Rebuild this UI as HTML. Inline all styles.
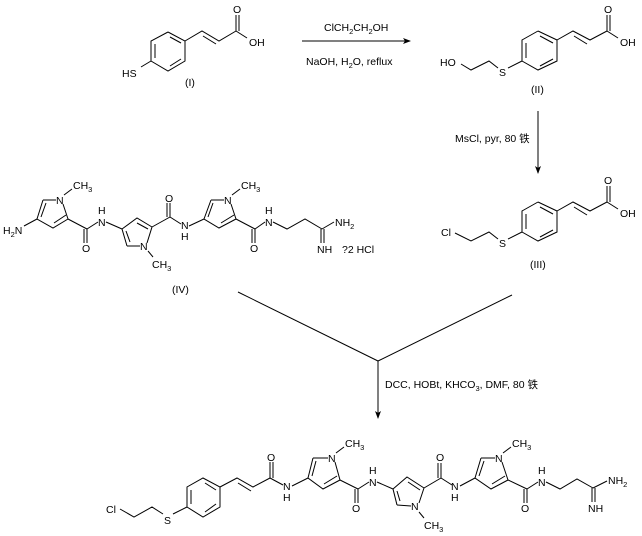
<!DOCTYPE html>
<html><head><meta charset="utf-8">
<style>
html,body{margin:0;padding:0;background:#fff;}
svg{display:block;}
text{font-family:"Liberation Sans","Noto Sans CJK SC",sans-serif;font-size:10.5px;fill:#000;}
.s{font-size:7.5px;}
line,polyline{stroke:#000;stroke-width:1;fill:none;}
</style></head><body>
<svg width="642" height="536" viewBox="0 0 642 536" xmlns="http://www.w3.org/2000/svg">
<defs>
<marker id="ar" markerWidth="8" markerHeight="8" refX="7" refY="4" orient="auto" markerUnits="userSpaceOnUse">
<path d="M0,1 L8,4 L0,7 L2,4 Z" fill="#000"/>
</marker>
</defs>

<!-- Compound I -->
<polyline points="168,32 185,41 185,61 168,71 151,61 151,41 168,32"/>
<line x1="170" y1="37" x2="181" y2="43"/>
<line x1="181" y1="59" x2="170" y2="66"/>
<line x1="155" y1="44" x2="155" y2="58"/>
<line x1="151" y1="61" x2="141" y2="67"/>
<text x="122" y="77">HS</text>
<polyline points="185,41 202,31 219,41 236,31"/>
<line x1="203" y1="36" x2="216" y2="44"/>
<line x1="236" y1="31" x2="236" y2="15"/>
<line x1="239" y1="31" x2="239" y2="15"/>
<text x="233" y="13">O</text>
<line x1="236" y1="31" x2="247" y2="38"/>
<text x="249" y="46">OH</text>
<text x="185" y="86">(I)</text>

<!-- Arrow 1 -->
<line x1="302" y1="41" x2="410" y2="41" marker-end="url(#ar)"/>
<text x="324" y="31">ClCH<tspan class="s" dy="3">2</tspan><tspan dy="-3">CH</tspan><tspan class="s" dy="3">2</tspan><tspan dy="-3">OH</tspan></text>
<text x="306" y="65">NaOH, H<tspan class="s" dy="3">2</tspan><tspan dy="-3">O, reflux</tspan></text>

<!-- Compound II -->
<polyline points="538,31 557,40 557,61 538,70 522,61 522,40 538,31"/>
<line x1="540" y1="36" x2="553" y2="43"/>
<line x1="553" y1="59" x2="540" y2="66"/>
<line x1="526" y1="43" x2="526" y2="58"/>
<line x1="522" y1="61" x2="508" y2="68"/>
<text x="499" y="76">S</text>
<polyline points="498,68 489,61 471,70 461,64"/>
<text x="440" y="66">HO</text>
<polyline points="557,40 573,31 590,40 607,31"/>
<line x1="574" y1="36" x2="587" y2="44"/>
<line x1="607" y1="31" x2="607" y2="15"/>
<line x1="610" y1="31" x2="610" y2="15"/>
<text x="604" y="13">O</text>
<line x1="607" y1="31" x2="618" y2="38"/>
<text x="620" y="46">OH</text>
<text x="531" y="93">(II)</text>

<!-- Arrow 2 -->
<line x1="538" y1="111" x2="538" y2="173" marker-end="url(#ar)"/>
<text x="455" y="142">MsCl, pyr, 80 铁</text>

<!-- Compound III -->
<polyline points="538,202 557,211 557,232 538,241 522,232 522,211 538,202"/>
<line x1="540" y1="207" x2="553" y2="214"/>
<line x1="553" y1="230" x2="540" y2="237"/>
<line x1="526" y1="214" x2="526" y2="229"/>
<line x1="522" y1="232" x2="508" y2="239"/>
<text x="499" y="247">S</text>
<polyline points="498,239 489,232 471,241 455,233"/>
<text x="441" y="236">Cl</text>
<polyline points="557,211 573,202 590,211 607,202"/>
<line x1="574" y1="207" x2="587" y2="215"/>
<line x1="607" y1="202" x2="607" y2="186"/>
<line x1="610" y1="202" x2="610" y2="186"/>
<text x="604" y="184">O</text>
<line x1="607" y1="202" x2="618" y2="209"/>
<text x="620" y="217">OH</text>
<text x="530" y="268">(III)</text>

<!-- Compound IV -->
<line x1="43" y1="200" x2="56" y2="200"/>
<line x1="63" y1="204" x2="68" y2="219"/>
<polyline points="68,219 53,228 37,219 43,200"/>
<line x1="66" y1="215" x2="54" y2="223"/>
<line x1="41" y1="217" x2="46" y2="203"/>
<text x="56" y="204">N</text>
<line x1="64" y1="195" x2="72" y2="189"/>
<text x="73" y="189">CH<tspan class="s" dy="3">3</tspan></text>
<line x1="37" y1="219" x2="24" y2="226"/>
<text x="3" y="234">H<tspan class="s" dy="3">2</tspan><tspan dy="-3">N</tspan></text>
<line x1="68" y1="219" x2="87" y2="229"/>
<line x1="87" y1="229" x2="87" y2="243"/>
<line x1="84" y1="229" x2="84" y2="243"/>
<text x="82" y="252">O</text>
<line x1="87" y1="229" x2="98" y2="222"/>
<text x="98" y="226">N</text>
<text x="98" y="214">H</text>
<line x1="106" y1="222" x2="122" y2="229"/>
<polyline points="122,229 137,218 152,227"/>
<line x1="137" y1="223" x2="148" y2="229"/>
<line x1="152" y1="227" x2="147" y2="243"/>
<line x1="140" y1="246" x2="127" y2="246"/>
<line x1="127" y1="246" x2="122" y2="229"/>
<line x1="130" y1="242" x2="126" y2="231"/>
<text x="140" y="250">N</text>
<line x1="148" y1="251" x2="153" y2="257"/>
<text x="152" y="268">CH<tspan class="s" dy="3">3</tspan></text>
<line x1="152" y1="227" x2="170" y2="217"/>
<line x1="170" y1="217" x2="170" y2="203"/>
<line x1="167" y1="217" x2="167" y2="203"/>
<text x="165" y="202">O</text>
<line x1="170" y1="217" x2="181" y2="224"/>
<text x="181" y="229">N</text>
<text x="181" y="240">H</text>
<line x1="189" y1="226" x2="204" y2="219"/>
<line x1="211" y1="200" x2="224" y2="200"/>
<line x1="231" y1="204" x2="236" y2="219"/>
<polyline points="236,219 219,228 204,219 211,200"/>
<line x1="234" y1="215" x2="221" y2="223"/>
<line x1="208" y1="217" x2="213" y2="203"/>
<text x="224" y="204">N</text>
<line x1="232" y1="195" x2="240" y2="189"/>
<text x="241" y="189">CH<tspan class="s" dy="3">3</tspan></text>
<line x1="236" y1="219" x2="255" y2="229"/>
<line x1="255" y1="229" x2="255" y2="243"/>
<line x1="252" y1="229" x2="252" y2="243"/>
<text x="250" y="252">O</text>
<line x1="255" y1="229" x2="265" y2="222"/>
<text x="265" y="226">N</text>
<text x="265" y="214">H</text>
<polyline points="273,222 287,229 305,219 322,229"/>
<line x1="322" y1="229" x2="334" y2="222"/>
<text x="335" y="226">NH<tspan class="s" dy="3">2</tspan></text>
<line x1="321" y1="229" x2="321" y2="243"/>
<line x1="324" y1="229" x2="324" y2="243"/>
<text x="317" y="253">NH</text>
<text x="342" y="253">?2 HCl</text>
<text x="172" y="293">(IV)</text>

<!-- V lines + arrow 3 -->
<line x1="238" y1="292" x2="378" y2="361"/>
<line x1="512" y1="295" x2="378" y2="361"/>
<line x1="378" y1="361" x2="378" y2="418" marker-end="url(#ar)"/>
<text x="385" y="388">DCC, HOBt, KHCO<tspan class="s" dy="3">3</tspan><tspan dy="-3">, DMF, 80 铁</tspan></text>

<!-- Product -->
<text x="106" y="513">Cl</text>
<polyline points="120,509 134,517 152,507 163,514"/>
<text x="164" y="524">S</text>
<line x1="173" y1="514" x2="187" y2="507"/>
<polyline points="187,507 187,487 203,478 220,487 220,507 203,517 187,507"/>
<line x1="191" y1="490" x2="191" y2="504"/>
<line x1="205" y1="483" x2="216" y2="490"/>
<line x1="216" y1="504" x2="205" y2="512"/>
<polyline points="220,487 237,478 253,487 270,478"/>
<line x1="238" y1="483" x2="251" y2="491"/>
<line x1="270" y1="478" x2="270" y2="462"/>
<line x1="273" y1="478" x2="273" y2="462"/>
<text x="267" y="461">O</text>
<line x1="270" y1="478" x2="283" y2="485"/>
<text x="283" y="490">N</text>
<text x="283" y="501">H</text>
<line x1="292" y1="486" x2="308" y2="478"/>
<line x1="313" y1="458" x2="328" y2="458"/>
<line x1="335" y1="462" x2="340" y2="480"/>
<polyline points="340,480 323,489 308,478 313,458"/>
<line x1="337" y1="476" x2="324" y2="484"/>
<line x1="312" y1="476" x2="316" y2="461"/>
<text x="328" y="462">N</text>
<line x1="336" y1="453" x2="344" y2="447"/>
<text x="345" y="447">CH<tspan class="s" dy="3">3</tspan></text>
<line x1="340" y1="480" x2="358" y2="489"/>
<line x1="358" y1="489" x2="358" y2="503"/>
<line x1="355" y1="489" x2="355" y2="503"/>
<text x="352" y="512">O</text>
<line x1="358" y1="489" x2="369" y2="482"/>
<text x="369" y="486">N</text>
<text x="369" y="474">H</text>
<line x1="377" y1="482" x2="393" y2="489"/>
<polyline points="393,489 407,477 424,488"/>
<line x1="408" y1="482" x2="420" y2="490"/>
<line x1="424" y1="488" x2="419" y2="503"/>
<line x1="411" y1="506" x2="397" y2="505"/>
<line x1="397" y1="505" x2="393" y2="489"/>
<line x1="400" y1="501" x2="397" y2="491"/>
<text x="411" y="510">N</text>
<line x1="419" y1="512" x2="424" y2="518"/>
<text x="424" y="529">CH<tspan class="s" dy="3">3</tspan></text>
<line x1="424" y1="488" x2="441" y2="478"/>
<line x1="441" y1="478" x2="441" y2="463"/>
<line x1="438" y1="478" x2="438" y2="463"/>
<text x="436" y="461">O</text>
<line x1="441" y1="478" x2="452" y2="485"/>
<text x="451" y="490">N</text>
<text x="451" y="501">H</text>
<line x1="460" y1="486" x2="475" y2="478"/>
<line x1="481" y1="458" x2="495" y2="458"/>
<line x1="502" y1="462" x2="508" y2="480"/>
<polyline points="508,480 491,489 475,478 481,458"/>
<line x1="505" y1="476" x2="492" y2="484"/>
<line x1="479" y1="476" x2="484" y2="461"/>
<text x="495" y="462">N</text>
<line x1="503" y1="453" x2="511" y2="447"/>
<text x="512" y="447">CH<tspan class="s" dy="3">3</tspan></text>
<line x1="508" y1="480" x2="527" y2="489"/>
<line x1="527" y1="489" x2="527" y2="503"/>
<line x1="524" y1="489" x2="524" y2="503"/>
<text x="521" y="512">O</text>
<line x1="527" y1="489" x2="538" y2="482"/>
<text x="538" y="486">N</text>
<text x="538" y="474">H</text>
<polyline points="546,482 560,489 577,479 593,488"/>
<line x1="593" y1="488" x2="607" y2="481"/>
<text x="608" y="484">NH<tspan class="s" dy="3">2</tspan></text>
<line x1="592" y1="488" x2="592" y2="502"/>
<line x1="595" y1="488" x2="595" y2="502"/>
<text x="588" y="512">NH</text>
</svg>
</body></html>
